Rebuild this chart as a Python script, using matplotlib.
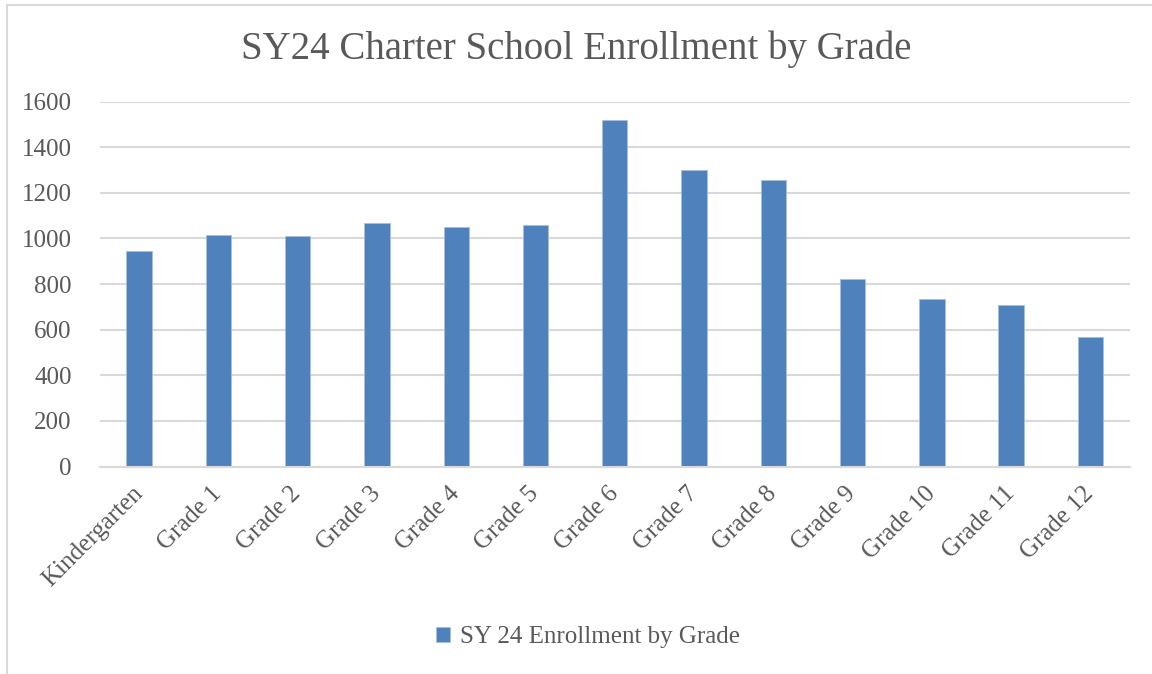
import matplotlib
matplotlib.use('Agg')
import matplotlib.pyplot as plt
from matplotlib.patches import Rectangle

# SY24 enrollment by grade
grades = ['Kindergarten', 'Grade 1', 'Grade 2', 'Grade 3', 'Grade 4', 'Grade 5',
          'Grade 6', 'Grade 7', 'Grade 8', 'Grade 9', 'Grade 10', 'Grade 11', 'Grade 12']
enrollment = [945, 1014, 1010, 1069, 1049, 1061, 1518, 1302, 1255, 824, 733, 708, 567]
y_ticks = [0, 200, 400, 600, 800, 1000, 1200, 1400, 1600]

TITLE = 'SY24 Charter School Enrollment by Grade'
SERIES = 'SY 24 Enrollment by Grade'

BAR_COLOR = '#4F81BD'
TEXT_COLOR = '#595959'
GRID_COLOR = '#D9D9D9'

plt.rcParams['font.family'] = ['Liberation Serif', 'DejaVu Serif']

W, H = 1152, 674
fig = plt.figure(figsize=(W / 100, H / 100), dpi=100)

# chart area border (runs off the right and bottom edge like the screenshot)
fig.patches.append(Rectangle((7 / W, -0.05), 1.2, 1 - 5 / H + 0.05,
                             transform=fig.transFigure, fill=False,
                             edgecolor=GRID_COLOR, linewidth=1.5))

left, right = 99.5 / W, 1130 / W
bottom, top = 1 - 466.5 / H, 1 - 101.7 / H
ax = fig.add_axes([left, bottom, right - left, top - bottom])

x = list(range(len(grades)))
ax.bar(x, enrollment, width=0.32, color=BAR_COLOR, edgecolor='#A7BFDE',
       linewidth=0.6, label=SERIES, zorder=3)

ax.set_xlim(-0.5, len(grades) - 0.5)
ax.set_ylim(0, 1600)
ax.set_yticks(y_ticks)
ax.set_yticklabels([str(v) for v in y_ticks])
ax.grid(axis='y', color=GRID_COLOR, linewidth=1.5, zorder=0)

for s in ['top', 'right', 'left']:
    ax.spines[s].set_visible(False)
ax.spines['bottom'].set_color(GRID_COLOR)
ax.spines['bottom'].set_linewidth(1.5)
ax.spines['bottom'].set_zorder(4)

ax.tick_params(axis='y', length=0, pad=20, labelsize=18, labelcolor=TEXT_COLOR)
ax.tick_params(axis='x', length=0, pad=17, labelsize=18, labelcolor=TEXT_COLOR)
ax.set_xticks(x)
ax.set_xticklabels(grades, rotation=45, ha='right', va='center',
                   rotation_mode='anchor')

fig.text(0.5, 1 - 49 / H, TITLE, ha='center', va='center',
         fontsize=28, color=TEXT_COLOR)

leg = fig.legend(loc='center', bbox_to_anchor=(588 / W, 1 - 637 / H),
                 frameon=False, fontsize=18, handlelength=0.55,
                 handleheight=0.55, handletextpad=0.4)
for t in leg.get_texts():
    t.set_color(TEXT_COLOR)

fig.savefig('out.png', dpi=100)
